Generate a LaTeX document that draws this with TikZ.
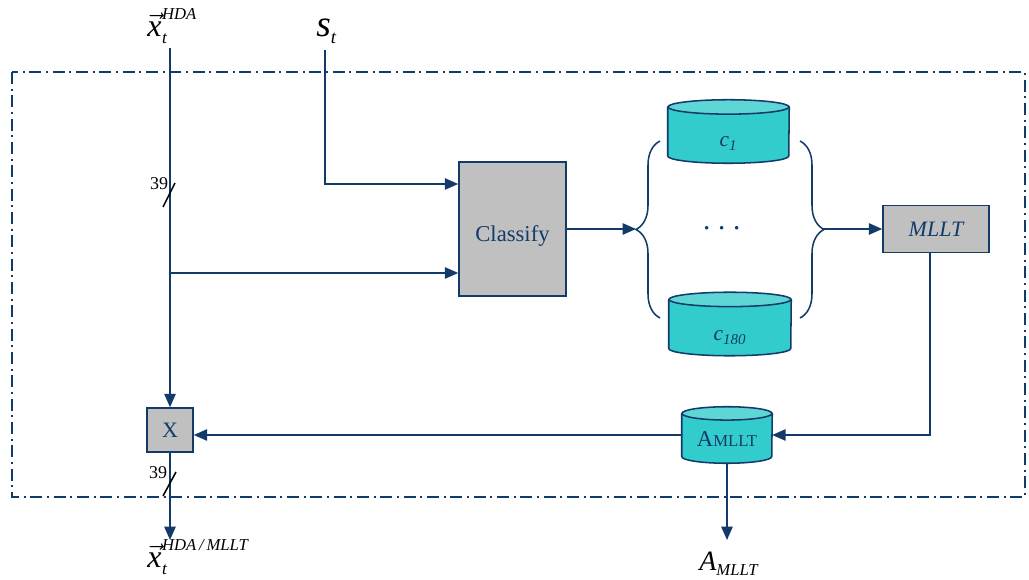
\documentclass[tikz,border=0pt]{standalone}
\usepackage{fontspec}
\setmainfont{Liberation Serif}
\usetikzlibrary{arrows.meta,decorations.pathreplacing,backgrounds}
\definecolor{navy}{HTML}{123B69}
\definecolor{boxgray}{HTML}{C0C0C0}
\definecolor{tealbody}{HTML}{33CCCC}
\definecolor{tealtop}{HTML}{5ED6D6}
% feature vector symbol: arrowed x with subscript t and a tag above
\newcommand{\featvec}[1]{\hbox{\fontsize{24}{24}\selectfont$\vec{\hbox{\itshape x}}$}%
  \kern0.5pt\rlap{\raisebox{13pt}{\fontsize{12.5}{13}\selectfont\itshape #1}}%
  \raisebox{-5pt}{\fontsize{13}{13}\selectfont\itshape t}}
% text set with its baseline a given distance below the node centre
\newcommand{\lowered}[2]{\raisebox{-#1}[0pt][0pt]{#2}}
% storage drum behind a node: #1 node, #2 half width, #3 radius of the end ellipse
\newcommand{\drawdrum}[3]{%
  \begin{scope}[on background layer]
    \path[drumline,fill=tealbody] ([yshift=-#3]#1.north west) -- ([yshift=#3]#1.south west)
      arc[start angle=180,end angle=360,x radius=#2,y radius=#3]
      -- ([yshift=-#3]#1.north east) -- cycle;
    \path[drumline,fill=tealtop] ([yshift=-#3]#1.north) ellipse[x radius=#2,y radius=#3];
  \end{scope}}
\begin{document}
\begin{tikzpicture}[x=0.75pt,y=-0.75pt,
  wire/.style={draw=navy,line width=1.15pt},
  flow/.style={wire,-{Triangle[length=10pt,width=8.5pt]}},
  graybox/.style={draw=navy,line width=1.15pt,fill=boxgray,text=navy,inner sep=0pt},
  drumline/.style={draw=navy,line width=1.15pt,line join=round},
  drumbox/.style={rectangle,text=navy,inner sep=0pt},
  bracepath/.style={wire,decorate,decoration={brace,amplitude=18pt}},
  frame/.style={draw=navy,line width=1.15pt,dash pattern=on 9pt off 3.5pt on 1.5pt off 3.5pt},
  slash/.style={draw=black,line width=1.15pt},
  lbl/.style={inner sep=0pt}]
\useasboundingbox (0,0) rectangle (1029,580);

% boundary of the adaptation block
\path[frame] (12,72) rectangle (1025,497);

% blocks
\node[graybox,minimum width=80.25pt,minimum height=100.5pt,font=\fontsize{17}{18}\selectfont]
  (classify) at (512.5,229) {\lowered{9.5pt}{Classify}};
\node[graybox,minimum width=79.5pt,minimum height=35.25pt,font=\fontsize{16.5}{18}\selectfont\itshape]
  (mllt) at (936,229) {MLLT};
\node[graybox,minimum width=34.5pt,minimum height=33pt,font=\fontsize{16.5}{18}\selectfont]
  (xbox) at (170,430) {X};

% class models and transform store
\node[drumbox,minimum width=90.75pt,minimum height=47.25pt,font=\fontsize{16}{18}\selectfont]
  (c1) at (728.5,131.5) {\lowered{11.3pt}{\itshape c\textsubscript{1}}};
\node[drumbox,minimum width=91.5pt,minimum height=47.25pt,font=\fontsize{16}{18}\selectfont]
  (c180) at (730,324) {\lowered{12.5pt}{\itshape c\textsubscript{180}}};
\node[drumbox,minimum width=67.5pt,minimum height=42pt,font=\fontsize{17}{18}\selectfont]
  (amllt) at (727,435) {\lowered{9pt}{A{\fontsize{12.5}{14}\selectfont MLLT}}};
\drawdrum{c1}{45.375pt}{5.4pt}
\drawdrum{c180}{45.75pt}{5.4pt}
\drawdrum{amllt}{33.75pt}{5pt}
\node[lbl,font=\fontsize{25}{25}\selectfont,text=navy] (dots) at (722,229) {$\cdots$};

% outer labels
\node[lbl,anchor=west] (xin) at (147,26) {\featvec{HDA}};
\node[lbl,anchor=west] (st) at (316,31)
  {{\fontsize{28}{28}\selectfont\itshape s}\raisebox{-5pt}{\fontsize{14}{14}\selectfont\itshape t}};
\node[lbl,anchor=west] (xout) at (147,557) {\featvec{HDA\,/\,MLLT}};
\node[lbl,anchor=west] (aout) at (699,564)
  {{\fontsize{21}{21}\selectfont\itshape A}\raisebox{-4pt}{\fontsize{12.5}{13}\selectfont\itshape MLLT}};
\node[lbl,font=\fontsize{13.5}{14}\selectfont] (n39a) at (159,184) {39};
\node[lbl,font=\fontsize{13.5}{14}\selectfont] (n39b) at (158,473) {39};

% helper points
\coordinate (x0) at (170,48);
\coordinate (br) at (170,273);
\coordinate (s0) at (325,50);
\coordinate (s1) at (325,184);
\coordinate (lb) at (636,229);
\coordinate (rb) at (822,229);
\coordinate (m1) at (930,435);
\coordinate (xo) at (170,540);
\coordinate (ao) at (727,540);

% braces around the class models
\path[bracepath] (660,318) -- (660,141);
\path[bracepath] (800,141) -- (800,318);

% signal flow
\draw[flow] (x0) -- (xbox.north);
\draw[flow] (br) -- (br -| classify.west);
\draw[flow] (s0) -- (s1) -- (s1 -| classify.west);
\draw[flow] (classify.east) -- (lb);
\draw[flow] (rb) -- (mllt.west);
\draw[flow] (mllt.south -| m1) -- (m1) -- (amllt.east);
\draw[flow] (amllt.west) -- (amllt.west -| xbox.east);
\draw[flow] (xbox.south) -- (xo);
\draw[flow] (amllt.south) -- (ao);

% bus width marks
\draw[slash] (163,207) -- (175,183);
\draw[slash] (163,496) -- (176,472);
\end{tikzpicture}
\end{document}
